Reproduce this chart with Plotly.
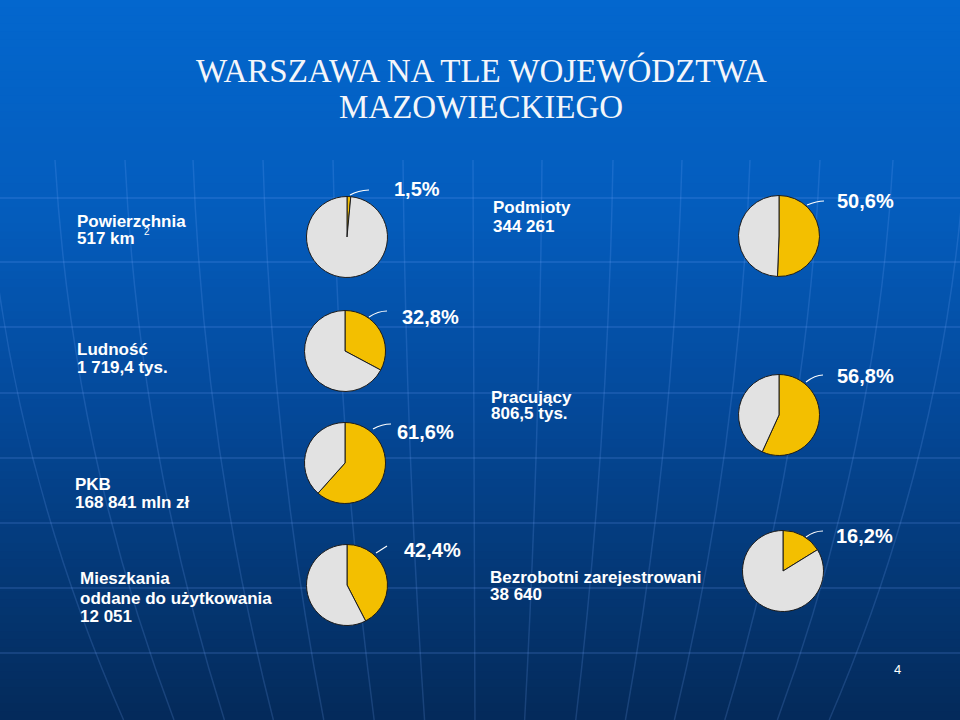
import plotly.graph_objects as go

# ---------------- data ----------------
indicators = ["Powierzchnia", "Podmioty", "Ludność", "PKB", "Pracujący", "Mieszkania", "Bezrobotni"]
warsaw_share = [1.5, 50.6, 32.8, 61.6, 56.8, 42.4, 16.2]          # % of Mazowieckie
share_labels = ["1,5%", "50,6%", "32,8%", "61,6%", "56,8%", "42,4%", "16,2%"]
label_lines = [
    ["Powierzchnia", "517 km"],
    ["Podmioty", "344 261"],
    ["Ludność", "1 719,4 tys."],
    ["PKB", "168 841 mln zł"],
    ["Pracujący", "806,5 tys."],
    ["Mieszkania", "oddane do użytkowania", "12 051"],
    ["Bezrobotni zarejestrowani", "38 640"],
]
title_lines = ["WARSZAWA NA TLE WOJEWÓDZTWA", "MAZOWIECKIEGO"]
page_number = "4"

# ---------------- layout (pixels) ----------------
W, H = 960, 720
pie_centers = [(347, 237), (779, 236), (345, 351), (345, 463), (779, 415), (347, 585), (783, 571)]
pie_r = 40.5
pct_pos = [(392, 189), (835, 201), (400, 317), (395, 432), (835, 376), (402, 549.5), (834, 535.5)]
label_pos = [
    [(75, 221.5), (75, 238.5)],
    [(491, 208), (491, 226)],
    [(75, 349), (75, 367)],
    [(73, 484.5), (73, 502)],
    [(489, 397), (489, 414)],
    [(78, 578), (78, 598.5), (78, 616)],
    [(488, 577), (488, 594.5)],
]
leaders = [
    [(350, 195), (358, 190.5), (369, 190)],
    [(807, 205), (817, 201), (824, 201)],
    [(369, 317), (378, 311), (387, 311)],
    [(373, 429), (382, 424), (391, 424)],
    [(806, 382), (815, 375), (823, 375)],
    [(376, 553), (387, 546)],
    [(806, 537), (814, 531), (823, 531)],
]

YELLOW = "#F3BF00"
GREY = "#E2E2E2"


def px(x):
    return x / W


def py(y):
    return 1 - y / H


fig = go.Figure()

for i, (name, v) in enumerate(zip(indicators, warsaw_share)):
    cx, cy = pie_centers[i]
    fig.add_trace(go.Pie(
        values=[v, 100 - v],
        labels=["Warszawa", "Reszta województwa"],
        name=name,
        sort=False,
        direction="clockwise",
        rotation=0,
        textinfo="none",
        marker=dict(colors=[YELLOW, GREY], line=dict(color="#1c1c1c", width=1)),
        domain=dict(x=[px(cx - pie_r), px(cx + pie_r)], y=[py(cy + pie_r), py(cy - pie_r)]),
        showlegend=False,
    ))

shapes = []
# background gradient
stops = [(0.0, (3, 103, 206)), (0.3, (4, 92, 188)), (0.55, (4, 74, 156)), (0.8, (4, 56, 118)), (1.0, (4, 42, 90))]
N = 90
for k in range(N):
    t = (k + 0.5) / N
    for j in range(len(stops) - 1):
        if stops[j][0] <= t <= stops[j + 1][0]:
            a, ca = stops[j]
            b, cb = stops[j + 1]
            f = (t - a) / (b - a)
            col = tuple(round(ca[m] + (cb[m] - ca[m]) * f) for m in range(3))
            break
    shapes.append(dict(type="rect", xref="paper", yref="paper", x0=0, x1=1,
                       y0=1 - (k + 1) / N - 0.001, y1=1 - k / N + 0.001,
                       fillcolor="rgb(%d,%d,%d)" % col, line=dict(width=0), layer="below"))

# faint globe grid
for gy in [198, 262, 327, 393, 458, 523, 588, 653]:
    shapes.append(dict(type="line", xref="paper", yref="paper", x0=0, x1=1, y0=py(gy), y1=py(gy),
                       line=dict(color="rgba(120,170,255,0.22)", width=1.5), layer="below"))
for gx in [-15, 55, 125, 193, 263, 333, 403, 473, 542, 613, 682, 750, 820, 893, 965]:
    bottom = gx + (480 - gx) * 0.28
    mid = gx + (480 - gx) * 0.04
    path = "M %f %f Q %f %f %f %f" % (px(gx), py(160), px(mid), py(450), px(bottom), py(720))
    shapes.append(dict(type="path", xref="paper", yref="paper", path=path,
                       line=dict(color="rgba(120,170,255,0.18)", width=1.5), layer="below"))

# leader lines
for pts in leaders:
    path = "M %f %f" % (px(pts[0][0]), py(pts[0][1]))
    if len(pts) == 3:
        path += " Q %f %f %f %f" % (px(pts[1][0]), py(pts[1][1]) , px(pts[2][0]), py(pts[2][1]))
    else:
        path += " L %f %f" % (px(pts[1][0]), py(pts[1][1]))
    shapes.append(dict(type="path", xref="paper", yref="paper", path=path,
                       line=dict(color="white", width=1.2)))

annotations = []
FONT = "Liberation Sans, Arial, sans-serif"
# title
for txt, y in zip(title_lines, [71, 107]):
    annotations.append(dict(text=txt, x=px(481), y=py(y), xref="paper", yref="paper",
                            xanchor="center", yanchor="middle", showarrow=False,
                            font=dict(family="Liberation Serif, Times New Roman, serif", size=33, color="#F4F6FA")))
# indicator labels
for lines, poss in zip(label_lines, label_pos):
    for txt, (x, y) in zip(lines, poss):
        annotations.append(dict(text="<b>%s</b>" % txt, x=px(x), y=py(y), xref="paper", yref="paper",
                                xanchor="left", yanchor="middle", showarrow=False,
                                font=dict(family=FONT, size=17, color="white")))
# superscript of km2
annotations.append(dict(text="2", x=px(142), y=py(232), xref="paper", yref="paper",
                        xanchor="left", yanchor="middle", showarrow=False,
                        font=dict(family=FONT, size=10, color="white")))
# percentages
for txt, (x, y) in zip(share_labels, pct_pos):
    annotations.append(dict(text="<b>%s</b>" % txt, x=px(x), y=py(y), xref="paper", yref="paper",
                            xanchor="left", yanchor="middle", showarrow=False,
                            font=dict(family=FONT, size=20, color="white")))
# page number
annotations.append(dict(text=page_number, x=px(897), y=py(669), xref="paper", yref="paper",
                        xanchor="center", yanchor="middle", showarrow=False,
                        font=dict(family=FONT, size=13, color="white")))

fig.update_layout(
    width=W, height=H,
    margin=dict(l=0, r=0, t=0, b=0),
    paper_bgcolor="#0450A0",
    plot_bgcolor="rgba(0,0,0,0)",
    shapes=shapes,
    annotations=annotations,
)

fig.write_html("out.html", config={"displayModeBar": False},
               post_script="document.body.style.margin='0px';document.body.style.overflow='hidden';")
